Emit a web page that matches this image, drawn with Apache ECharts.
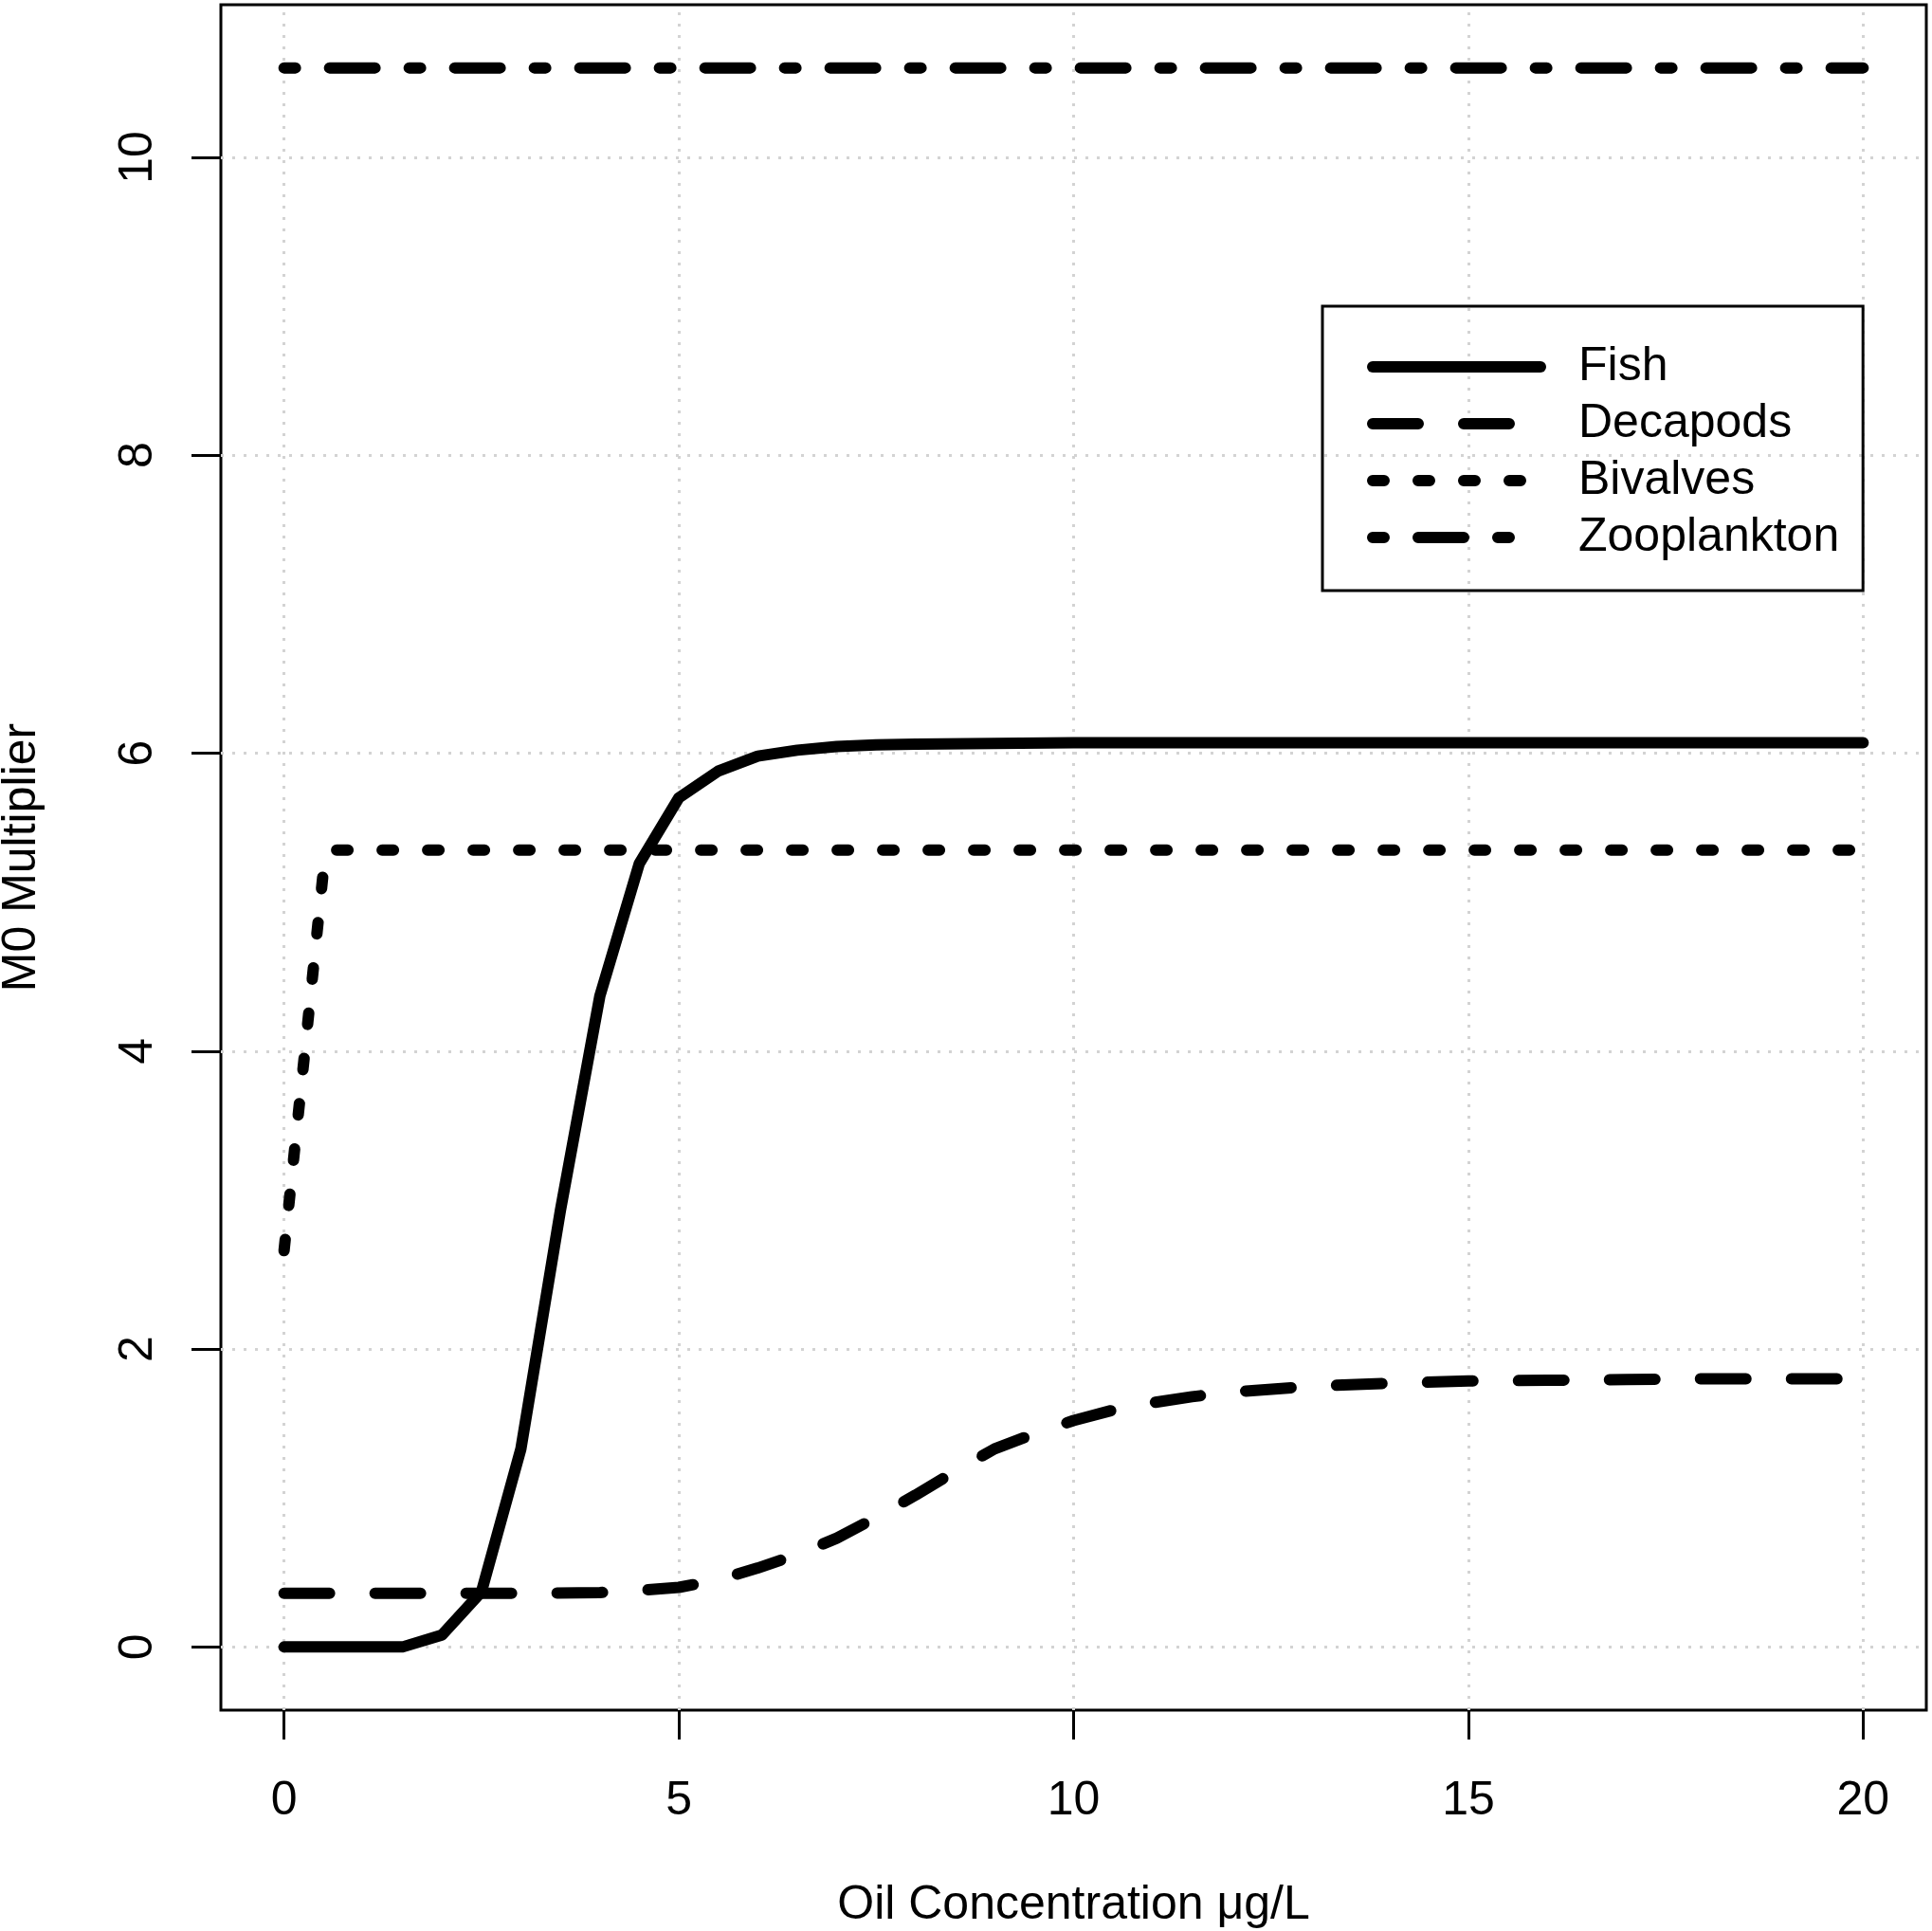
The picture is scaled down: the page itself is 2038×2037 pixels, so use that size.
<!DOCTYPE html>
<html lang="en">
<head>
<meta charset="UTF-8">
<title>M0 Multiplier</title>
<script src="https://cdn.jsdelivr.net/npm/echarts@6/dist/echarts.min.js"></script>
<style>
  html, body { margin: 0; padding: 0; background: #fff; }
  #main { width: 2038px; height: 2037px; }
</style>
</head>
<body>
<div id="main"></div>
<script>
    var chart = echarts.init(document.getElementById('main'));

    // data
    var fishX = [0, 0.5, 1, 1.5, 2, 2.5, 3, 3.5, 4, 4.5, 5, 5.5, 6, 6.5, 7, 7.5, 8, 9, 10, 12, 14, 16, 18, 20];
    var fishY = [0, 0, 0, 0, 0.08, 0.37, 1.33, 2.93, 4.37, 5.26, 5.70, 5.88, 5.98, 6.02, 6.045, 6.055, 6.06, 6.065, 6.07, 6.07, 6.07, 6.07, 6.07, 6.07];

    var decaX = [0, 1, 2, 3, 4, 4.5, 5, 5.5, 6, 6.5, 7, 7.5, 8, 8.5, 9, 9.5, 10, 10.5, 11, 11.5, 12, 13, 14, 15, 16, 17, 18, 19, 20];
    var decaY = [0.36, 0.36, 0.36, 0.36, 0.365, 0.38, 0.40, 0.45, 0.53, 0.62, 0.73, 0.87, 1.02, 1.18, 1.33, 1.43, 1.52, 1.59, 1.64, 1.68, 1.71, 1.75, 1.77, 1.785, 1.79, 1.795, 1.80, 1.80, 1.80];

    var bivX = [0, 0.25, 0.5, 0.6, 1, 20];
    var bivY = [2.66, 3.93, 5.22, 5.35, 5.35, 5.35];

    var zooX = [0, 20];
    var zooY = [10.6, 10.6];

    var xTicks = [0, 5, 10, 15, 20];
    var yTicks = [0, 2, 4, 6, 8, 10];

    function pairs(xs, ys) {
        return xs.map(function (x, i) { return [x, ys[i]]; });
    }

    var font = 'Liberation Sans, Arial, sans-serif';

    function lineSeries(name, xs, ys, dash) {
        return {
            name: name,
            type: 'line',
            data: pairs(xs, ys),
            symbol: 'none',
            z: 3,
            lineStyle: { color: '#000', width: 12, type: dash, cap: 'round', join: 'round' }
        };
    }

    var option = {
        animation: false,
        backgroundColor: '#fff',
        textStyle: { fontFamily: font },
        grid: {
            left: 233, right: 6, top: 5, bottom: 233,
            show: true, borderColor: '#000', borderWidth: 3,
            outerBoundsMode: 'none'
        },
        legend: {
            orient: 'vertical',
            left: 1395, top: 323,
            padding: [39, 25, 31, 47],
            borderColor: '#000', borderWidth: 3,
            itemWidth: 177, itemHeight: 50, itemGap: 10,
            selectedMode: false,
            // line series put a circle in the legend icon: hide it
            itemStyle: { color: 'transparent', borderColor: 'transparent', borderWidth: 0, opacity: 0 },
            lineStyle: { width: 12, cap: 'round' },
            textStyle: { fontSize: 50, lineHeight: 50, color: '#000', fontFamily: font, padding: [0, 0, 0, 35] },
            data: ['Fish', 'Decapods', 'Bivalves', 'Zooplankton']
        },
        xAxis: {
            type: 'value',
            min: -0.8, max: 20.8,
            name: 'Oil Concentration \u03bcg/L',
            nameLocation: 'middle', nameGap: 181,
            nameTextStyle: { fontSize: 50, color: '#000', fontFamily: font },
            axisLine: { show: false, onZero: false },
            axisTick: { show: true, length: 31, lineStyle: { color: '#000', width: 3, type: 'solid' }, customValues: xTicks },
            axisLabel: { fontSize: 50, color: '#000', margin: 71, customValues: xTicks, fontFamily: font },
            splitLine: { show: false }
        },
        yAxis: {
            type: 'value',
            min: -0.424, max: 11.024,
            name: 'M0 Multiplier',
            nameLocation: 'middle', nameGap: 185, nameRotate: 90,
            nameTextStyle: { fontSize: 50, color: '#000', fontFamily: font },
            axisLine: { show: false, onZero: false },
            axisTick: { show: true, length: 31, lineStyle: { color: '#000', width: 3, type: 'solid' }, customValues: yTicks },
            axisLabel: { fontSize: 50, color: '#000', margin: 62, rotate: 90, customValues: yTicks, fontFamily: font },
            splitLine: { show: false }
        },
        series: [
            {
                // dotted light grey grid, under the curves
                type: 'line',
                data: [],
                z: 1,
                silent: true,
                markLine: {
                    silent: true,
                    z: 1,
                    symbol: ['none', 'none'],
                    label: { show: false },
                    emphasis: { disabled: true },
                    lineStyle: { color: '#d3d3d3', width: 3, type: [3, 9] },
                    data: xTicks.map(function (v) { return { xAxis: v }; })
                        .concat(yTicks.map(function (v) { return { yAxis: v }; }))
                }
            },
            lineSeries('Fish', fishX, fishY, 'solid'),
            lineSeries('Decapods', decaX, decaY, [48, 48]),
            lineSeries('Bivalves', bivX, bivY, [12, 36]),
            lineSeries('Zooplankton', zooX, zooY, [12, 36, 48, 36])
        ]
    };

    chart.setOption(option);
</script>
</body>
</html>
